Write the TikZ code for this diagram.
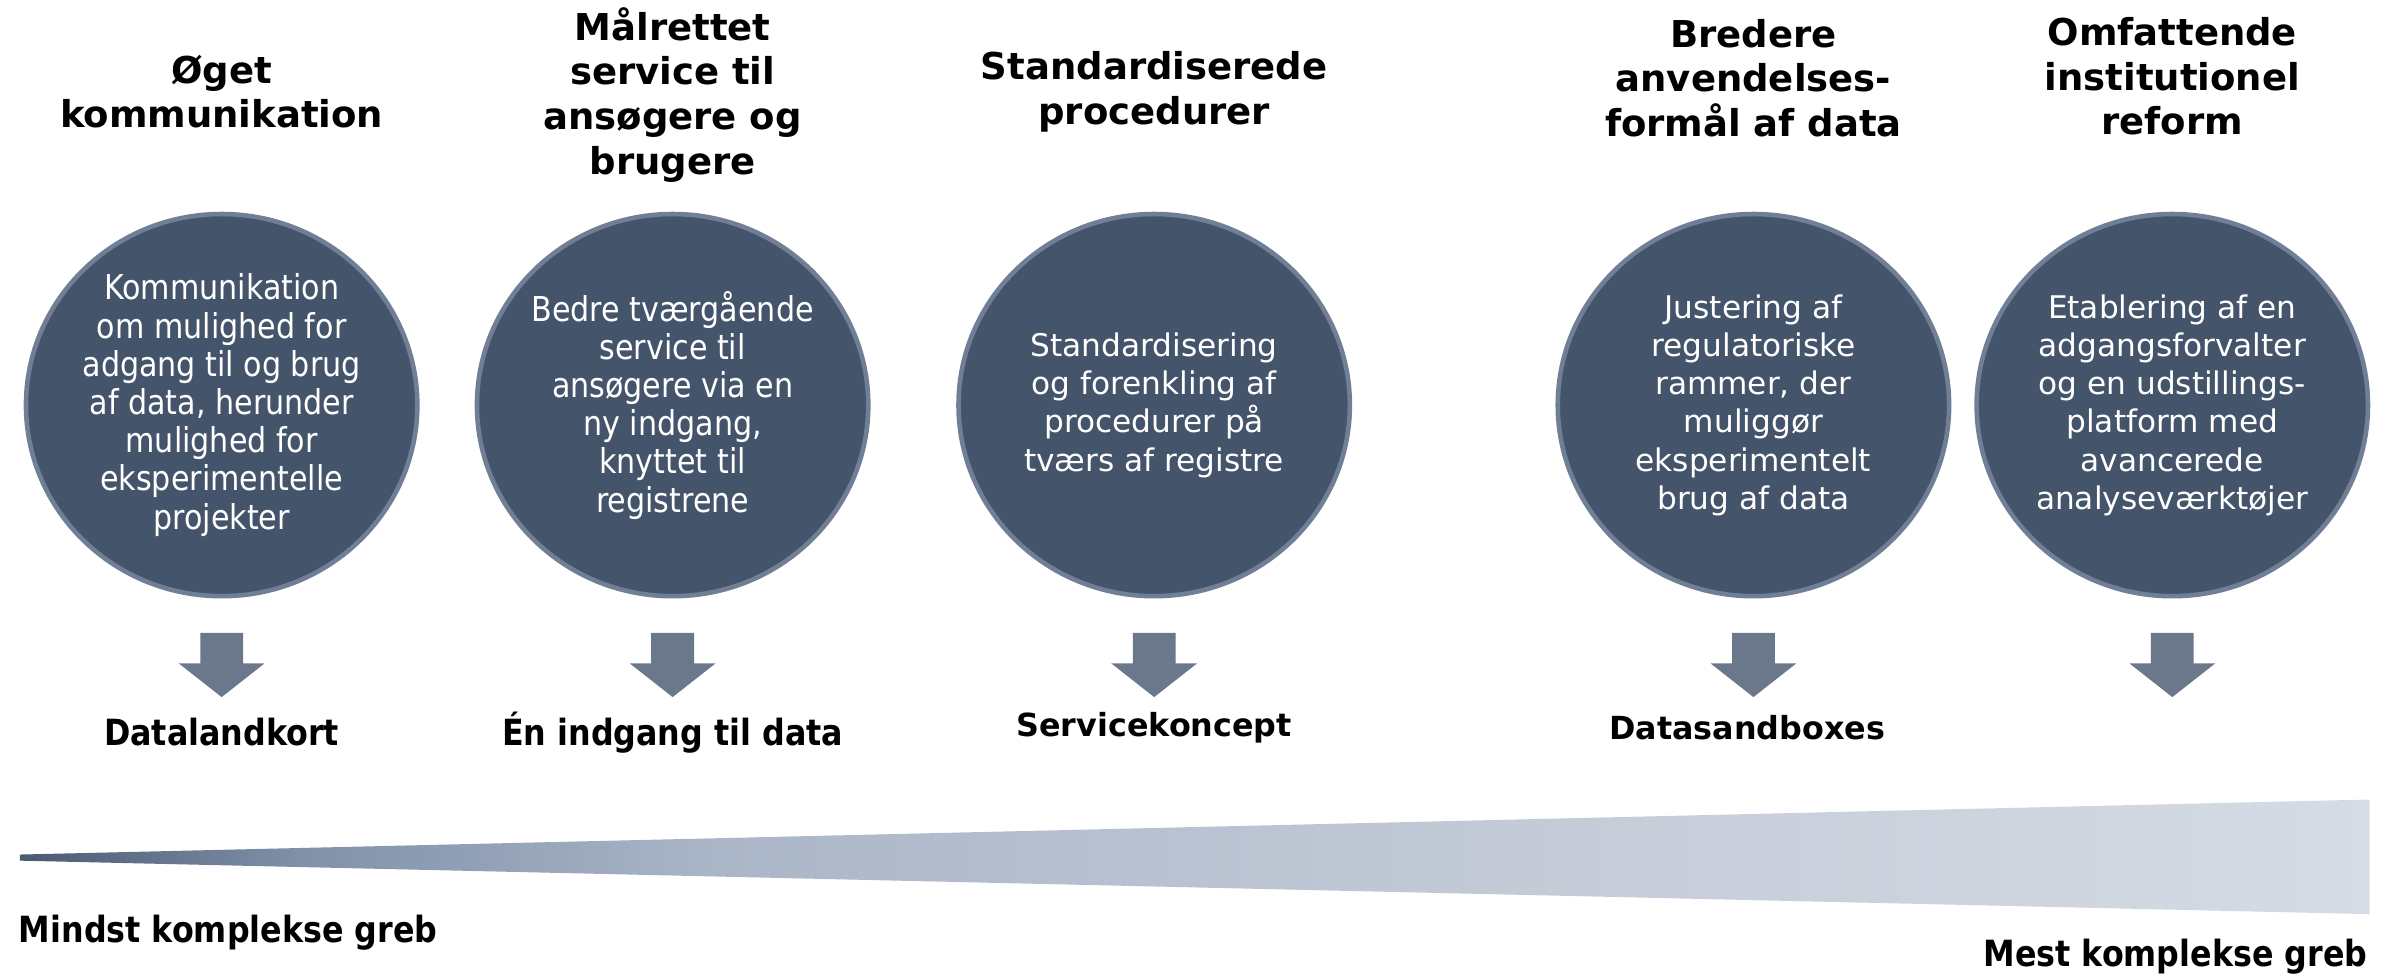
\documentclass[tikz,border=0pt]{standalone}
\usepackage{fontspec}
\setmainfont{DejaVu Sans}
\newfontfamily\condfont[FakeStretch=0.88]{DejaVu Sans}
\usetikzlibrary{shapes.geometric}
\definecolor{circfill}{HTML}{44546A}
\definecolor{circline}{HTML}{707F95}
\definecolor{arrowfill}{HTML}{6B778B}
\definecolor{wA}{HTML}{4A5A73}
\definecolor{wB}{HTML}{8191A9}
\definecolor{wC}{HTML}{ABB6C8}
\definecolor{wD}{HTML}{C4CBD7}
\definecolor{wE}{HTML}{D6DCE5}
\pgfdeclarehorizontalshading{wedgeshade}{100bp}{color(0bp)=(wA); color(25bp)=(wA); color(31bp)=(wB); color(40bp)=(wC); color(57bp)=(wD); color(75bp)=(wE); color(100bp)=(wE)}
\tikzset{
  titletxt/.style={font=\bfseries\fontsize{12.1}{14.6}\selectfont, align=center, text=black, inner sep=0pt},
  circ/.style={ellipse, fill=circfill, draw=circline, line width=1.5pt, minimum width=128pt, minimum height=125pt, inner sep=0pt},
  ctext/.style={text=white, align=center, inner sep=0pt, font=\fontsize{10.2}{12.5}\selectfont},
  ctextc/.style={text=white, align=center, inner sep=0pt, font=\condfont\fontsize{11.2}{12.5}\selectfont},
  labtxt/.style={font=\bfseries\fontsize{10.4}{12.5}\selectfont, text=black, inner sep=0pt},
  labtxtc/.style={font=\condfont\bfseries\fontsize{11.8}{14}\selectfont, text=black, inner sep=0pt},
  blockarrow/.style={fill=arrowfill}
}
\begin{document}
\begin{tikzpicture}[x=0.5pt,y=-0.5pt]
\useasboundingbox (0,0) rectangle (1568,637);

% titles
\node[titletxt] (h1) at (145,60) {Øget\\kommunikation};
\node[titletxt] (h2) at (440,62) {Målrettet\\service til\\ansøgere og\\brugere};
\node[titletxt] (h3) at (755,60) {Standardiserede\\procedurer};
\node[titletxt] (h4) at (1147,51) {Bredere\\anvendelses-\\formål af data};
\node[titletxt] (h5) at (1421,50) {Omfattende\\institutionel\\reform};

% circles
\node[circ] (c1) at (145,265) {};
\node[circ] (c2) at (440,265) {};
\node[circ] (c3) at (755,265) {};
\node[circ] (c4) at (1147,265) {};
\node[circ] (c5) at (1421,265) {};

\node[ctextc] (t1) at (c1) {Kommunikation\\om mulighed for\\adgang til og brug\\af data, herunder\\mulighed for\\eksperimentelle\\projekter};
\node[ctextc] (t2) at (c2) {Bedre tværgående\\service til\\ansøgere via en\\ny indgang,\\knyttet til\\registrene};
\node[ctext] (t3) at (c3) {Standardisering\\og forenkling af\\procedurer på\\tværs af registre};
\node[ctext] (t4) at (c4) {Justering af\\regulatoriske\\rammer, der\\muliggør\\eksperimentelt\\brug af data};
\node[ctext] (t5) at (c5) {Etablering af en\\adgangsforvalter\\og en udstillings-\\platform med\\avancerede\\analyseværktøjer};

% block arrows
\foreach \x in {145,440,755,1147,1421}{
  \fill[blockarrow] (\x-14,414) -- (\x+14,414) -- (\x+14,434) -- (\x+28,434) -- (\x,456) -- (\x-28,434) -- (\x-14,434) -- cycle;
}

% labels
\node[labtxtc] (l1) at (145,479) {Datalandkort};
\node[labtxtc] (l2) at (440,479) {Én indgang til data};
\node[labtxt] (l3) at (755,476) {Servicekoncept};
\node[labtxt] (l4) at (1143,476) {Datasandboxes};

% wedge
\shade[shading=wedgeshade] (13,559) -- (1550,523) -- (1550,598) -- (13,563) -- cycle;

\node[labtxtc, anchor=west] (lo) at (12,610) {Mindst komplekse greb};
\node[labtxtc, anchor=east] (hi) at (1549,626) {Mest komplekse greb};
\end{tikzpicture}
\end{document}
